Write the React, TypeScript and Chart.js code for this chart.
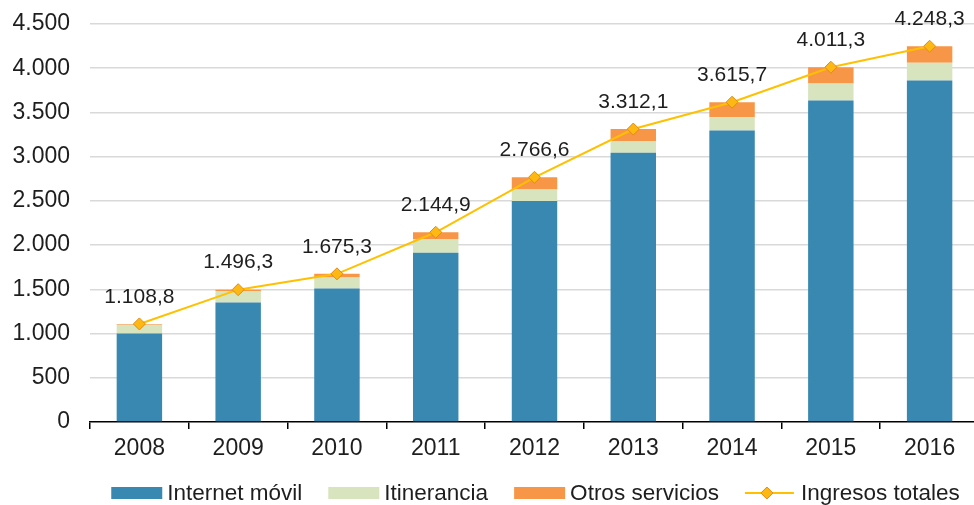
import React, { useEffect, useRef } from "react";
import { Chart, registerables } from "chart.js";

Chart.register(...registerables);

const categories = ["2008", "2009", "2010", "2011", "2012", "2013", "2014", "2015", "2016"];
const internetMovil = [1000, 1350, 1510, 1915, 2500, 3045, 3295, 3635, 3860];
const itinerancia = [100, 130, 125, 155, 130, 132, 150, 192, 203];
const otrosServicios = [9, 16, 40, 75, 137, 135, 171, 184, 185];
const ingresosTotales = [1108.8, 1496.3, 1675.3, 2144.9, 2766.6, 3312.1, 3615.7, 4011.3, 4248.3];
const yMin = 0;
const yMax = 4500;
const yStep = 500;

const FONT = "'Liberation Sans', Arial, Helvetica, sans-serif";
const TEXT = "#1e1e1e";

function fmt(v: number, dec: number): string {
  const s = v.toFixed(dec);
  const [i, d] = s.split(".");
  const g = i.replace(/\B(?=(\d{3})+(?!\d))/g, ".");
  return d ? g + "," + d : g;
}

const dataLabelPlugin = {
  id: "dataLabels",
  afterDatasetsDraw(chart: any) {
    const ctx = chart.ctx;
    chart.data.datasets.forEach((ds: any, di: number) => {
      if (ds.type !== "line") return;
      const meta = chart.getDatasetMeta(di);
      ctx.save();
      ctx.font = `21px ${FONT}`;
      ctx.fillStyle = TEXT;
      ctx.textAlign = "center";
      ctx.textBaseline = "middle";
      meta.data.forEach((pt: any, i: number) => {
        ctx.fillText(fmt(ds.data[i], 1), pt.x, pt.y - 27);
      });
      ctx.restore();
    });
  },
};

const legendPlugin = {
  id: "customLegend",
  afterDraw(chart: any) {
    const ctx = chart.ctx;
    const area = chart.chartArea;
    ctx.save();
    ctx.font = `22.5px ${FONT}`;
    const boxW = 51;
    const boxH = 12;
    const textGap = 5;
    const itemGap = 26;
    const items = chart.data.datasets.map((ds: any) => ({
      ds,
      w: boxW + textGap + ctx.measureText(ds.label).width,
    }));
    const total = items.reduce((a: number, it: any) => a + it.w, 0) + itemGap * (items.length - 1);
    const cx = (area.left + area.right) / 2 + 1;
    const cy = area.bottom + 71;
    let x = cx - total / 2;
    items.forEach((it: any) => {
      const ds = it.ds;
      if (ds.type === "line") {
        ctx.strokeStyle = ds.borderColor;
        ctx.lineWidth = 2;
        ctx.beginPath();
        ctx.moveTo(x, cy);
        ctx.lineTo(x + boxW - 2, cy);
        ctx.stroke();
        const dx = x + 22;
        const r = 6;
        ctx.beginPath();
        ctx.moveTo(dx, cy - r);
        ctx.lineTo(dx + r, cy);
        ctx.lineTo(dx, cy + r);
        ctx.lineTo(dx - r, cy);
        ctx.closePath();
        ctx.fillStyle = ds.pointBackgroundColor;
        ctx.fill();
        ctx.strokeStyle = ds.pointBorderColor;
        ctx.lineWidth = 1;
        ctx.stroke();
      } else {
        ctx.fillStyle = ds.backgroundColor;
        ctx.fillRect(x, cy - boxH / 2, boxW, boxH);
      }
      ctx.fillStyle = TEXT;
      ctx.textAlign = "left";
      ctx.textBaseline = "middle";
      ctx.fillText(ds.label, x + boxW + textGap, cy + 1);
      x += it.w + itemGap;
    });
    ctx.restore();
  },
};

export default function App() {
  const ref = useRef<HTMLCanvasElement | null>(null);

  useEffect(() => {
    if (!ref.current) return;
    const chart = new Chart(ref.current, {
      type: "bar",
      data: {
        labels: categories,
        datasets: [
          {
            type: "bar",
            label: "Internet móvil",
            data: internetMovil,
            backgroundColor: "#3888B2",
            order: 1,
            stack: "bars",
          },
          {
            type: "bar",
            label: "Itinerancia",
            data: itinerancia,
            backgroundColor: "#D7E4BD",
            order: 1,
            stack: "bars",
          },
          {
            type: "bar",
            label: "Otros servicios",
            data: otrosServicios,
            backgroundColor: "#F79646",
            order: 1,
            stack: "bars",
          },
          {
            type: "line",
            label: "Ingresos totales",
            data: ingresosTotales,
            borderColor: "#FFC000",
            backgroundColor: "#FFC000",
            borderWidth: 2,
            tension: 0,
            pointStyle: "rectRot",
            pointRadius: 6,
            pointBackgroundColor: "#FDB813",
            pointBorderColor: "#E38B12",
            pointBorderWidth: 1,
            order: 0,
            stack: "line",
          } as any,
        ],
      },
      options: {
        responsive: false,
        animation: false,
        layout: { padding: { top: 24, left: 0, right: 0, bottom: 0 } },
        datasets: {
          bar: { categoryPercentage: 1, barPercentage: 0.46 },
        },
        plugins: {
          legend: { display: false },
          tooltip: { enabled: false },
        },
        scales: {
          x: {
            stacked: true,
            offset: true,
            grid: {
              display: true,
              drawOnChartArea: false,
              drawTicks: true,
              tickLength: 7,
              color: "#000000",
              lineWidth: 1.5,
              offset: true,
            },
            border: { display: true, color: "#000000", width: 1.5 },
            ticks: {
              color: TEXT,
              font: { family: FONT, size: 23 },
              padding: 6,
              maxRotation: 0,
              autoSkip: false,
            },
            afterFit: (scale: any) => {
              scale.height = 83;
            },
          },
          y: {
            stacked: true,
            min: yMin,
            max: yMax,
            grid: {
              drawTicks: false,
              color: (c: any) => (c.tick && c.tick.value === 0 ? "rgba(0,0,0,0)" : "#D9D9D9"),
              lineWidth: 1.5,
            },
            border: { display: false },
            ticks: {
              stepSize: yStep,
              color: TEXT,
              font: { family: FONT, size: 23 },
              padding: 20,
              callback: (v: any) => fmt(Number(v), 0),
            },
            afterFit: (scale: any) => {
              scale.width = 90;
              scale.paddingTop = 0;
              scale.paddingBottom = 0;
            },
          },
        },
      },
      plugins: [dataLabelPlugin, legendPlugin],
    });
    return () => chart.destroy();
  }, []);

  return (
    <div style={{ position: "absolute", left: 0, top: 0, width: 974, height: 505, overflow: "hidden", background: "#fff" }}>
      <canvas ref={ref} width={986} height={505} style={{ display: "block" }} />
    </div>
  );
}
